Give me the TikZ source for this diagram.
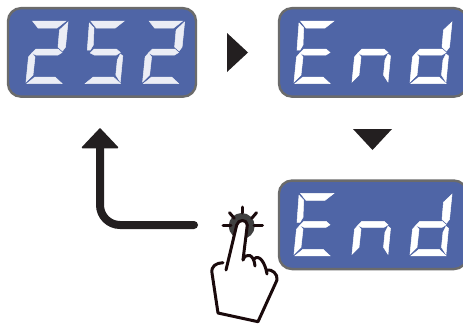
\documentclass[tikz,border=0pt]{standalone}
\definecolor{panelblue}{HTML}{4F65A6}
\definecolor{panelrim}{HTML}{6B6B6B}
\definecolor{segwhite}{HTML}{EBEDF5}
\definecolor{inkblack}{HTML}{231F20}
\definecolor{handink}{HTML}{1A0A0C}
\tikzset{
  panel/.style={draw=panelrim, fill=panelblue, line width=2.4pt, rounded corners=13pt, minimum width=188pt, minimum height=88.5pt, inner sep=0pt, outer sep=0pt},
  seg/.style={fill=segwhite, draw=segwhite, line width=0.5pt},
  handline/.style={draw=handink, line width=3pt, line cap=round, line join=round},
  sega/.pic={\path[seg] (32.5,21)--(66,21)--(57,28)--(38,28)--cycle;},
  segb/.pic={\path[seg] (68,22)--(65.5,47)--(62.5,51)--(58,47)--(59.5,30)--cycle;},
  segc/.pic={\path[seg] (64.5,56)--(62,82)--(57.5,75)--(59,60)--(62,54)--cycle;},
  segd/.pic={\path[seg] (27,83.5)--(35,77)--(55,77)--(62,83.5)--cycle;},
  sege/.pic={\path[seg] (26,82)--(28.5,57)--(32,53)--(35,57)--(33,75)--cycle;},
  segf/.pic={\path[seg] (29,50)--(31,23)--(35.7,28)--(35,45)--(32,50)--cycle;},
  segg/.pic={\path[seg] (32,53)--(36,49)--(58,49)--(62,52.5)--(58,55)--(36,55)--cycle;},
}
\newcommand{\lcdchar}[2]{\foreach \s in {#2} {\pic at (#1) {seg\s};}}
\begin{document}
\begin{tikzpicture}[x=1pt,y=-1pt]
  \clip (0,0) rectangle (463,324);
  \useasboundingbox (0,0) rectangle (463,324);
  \fill[white] (0,0) rectangle (463,324);
  % panels
  \node[panel] (count) at (102,52.4) {};
  \node[panel] (endtop) at (373,52.4) {};
  \node[panel] (endlow) at (373,224.8) {};
  % digits
  \lcdchar{0,0}{a,b,g,e,d}
  \lcdchar{58.3,0}{a,f,g,c,d}
  \lcdchar{116.6,0}{a,b,g,e,d}
  \begin{scope}[seg/.style={fill=white, draw=white, line width=0.5pt}]
    \foreach \y in {0,172.3} {
      \lcdchar{268,\y}{a,f,g,e,d}
      \lcdchar{326,\y}{g,e,c}
      \lcdchar{384,\y}{b,g,e,c,d}
    }
  \end{scope}
  % triangles
  \fill[inkblack] (227,33)--(248,52.5)--(227,72)--cycle;
  \fill[inkblack] (353,129)--(392,129)--(372.5,150)--cycle;
  % return arrow
  \coordinate (backstart) at (194,225);
  \coordinate (backend) at (100,146);
  \draw[inkblack, line width=8pt, line cap=round, rounded corners=20pt] (backstart) -- (100,225) -- (backend);
  \fill[inkblack, draw=inkblack, line width=1.5pt, line join=round] (100,129)--(82.5,147.5)--(117.5,147.5)--cycle;
  % button
  \fill[black!75] (241.7,226) circle (13pt);
  \draw[handline] (242.7,207)--(242.7,213);
  \draw[handline] (223,225)--(231,225);
  \draw[handline] (254,225)--(262.5,225);
  \draw[handline] (229.5,212.7)--(234.3,218.3);
  \draw[handline] (256.5,212.7)--(251.7,218.3);
  % hand
  \fill[white] (226,270)--(236.7,225) .. controls (238,219) and (247,219) .. (247.3,225)--(243,260)--(277,280)--(258,321.7)--(218,313)--(212,273)--cycle;
  \draw[handline] (226,270)--(236.7,225) .. controls (238,219) and (247,219) .. (247.3,225)--(243,260);
  \draw[handline] (243,260) .. controls (246,252) and (254,254) .. (255,266);
  \draw[handline] (254,259) .. controls (259,254) and (265,262) .. (267,274);
  \draw[handline] (267,270) .. controls (272,269) and (278,274) .. (277,280)--(258,321.7)--(218,313)--(212,273) .. controls (211,266) and (216,263) .. (223,262.7);
\end{tikzpicture}
\end{document}
